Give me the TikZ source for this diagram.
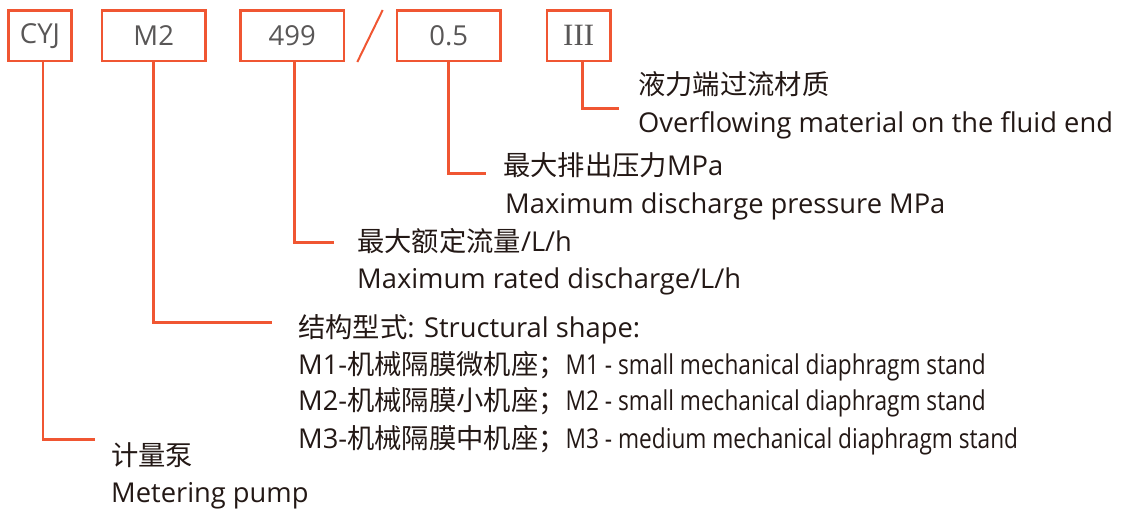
\documentclass[tikz,border=0pt]{standalone}
\usepackage{fontspec}
\setmainfont{Open Sans}
\newfontfamily\cjk{Noto Sans CJK SC}
\newfontfamily\narrowfont{Open Sans}[FakeStretch=0.83]
\newfontfamily\romanfont{Liberation Serif}
\usepackage{tikz}
\definecolor{leadred}{RGB}{240,86,50}
\definecolor{boxgray}{RGB}{89,87,87}
\definecolor{inkdark}{RGB}{35,24,21}
\newcommand{\zhtext}[1]{{\cjk #1}}
\tikzset{
  codebox/.style={draw=leadred, line width=2.6pt, text=boxgray, minimum height=50.5pt,
    inner sep=0pt, font=\fontsize{27.5}{27.5}\selectfont},
  lead/.style={draw=leadred, line width=2.6pt},
  desc/.style={anchor=base west, inner sep=0pt, text=inkdark, font=\fontsize{27.3}{27.3}\selectfont}
}

\begin{document}
\begin{tikzpicture}[x=1pt,y=1pt,yscale=-1]
\useasboundingbox (0,0) rectangle (1126,512);

% Code boxes
\node [codebox, minimum width=62.8pt] (cyj) at (40,35.8) {CYJ};
\node [codebox, minimum width=103.4pt] (mtype) at (153.7,35.8) {M2};
\node [codebox, minimum width=103.7pt] (flow) at (292.2,35.8) {499};
\node [codebox, minimum width=103.4pt] (press) at (448.7,35.8) {0.5};
\node [codebox, minimum width=63.4pt] (mat) at (578.7,35.8) {\fontsize{31}{31}\selectfont\romanfont III};
% Slash
\coordinate (slashlow) at (357.3,62);
\coordinate (slashhigh) at (382.7,10);
\draw [draw=leadred, line width=2pt] (slashlow) -- (slashhigh);

% Lead end points
\coordinate (matend) at (619.3,108.3);
\coordinate (pressend) at (486,173.3);
\coordinate (flowend) at (334,242.7);
\coordinate (mtypeend) at (271.7,322.3);
\coordinate (pumpend) at (95,439.3);

% Leads
\draw [lead] ([xshift=4pt]mat.south) |- (matend);
\draw [lead] (press.south) |- (pressend);
\draw [lead] ([xshift=2pt]flow.south) |- (flowend);
\draw [lead] (mtype.south) |- (mtypeend);
\draw [lead] ([xshift=3pt]cyj.south) |- (pumpend);

% Text Node
\node [desc] (zhmat) at (638,94.5) {\zhtext{液力端过流材质}};
\node [desc] (enmat) at (638,132) {Overflowing material on the fluid end};
% Text Node
\node [desc] (zhpress) at (503,175) {\zhtext{最大排出压力}MPa};
\node [desc] (enpress) at (505,213) {Maximum discharge pressure MPa};
% Text Node
\node [desc] (zhflow) at (357,251.5) {\zhtext{最大额定流量}/L/h};
\node [desc] (enflow) at (357,288) {Maximum rated discharge/L/h};
% Text Node
\node [desc] (zhshape) at (298,337) {\zhtext{结构型式}: Structural shape:};
\node [desc] (mone) at (298,374) {M1-\zhtext{机械隔膜微机座；}{\narrowfont M1 - small mechanical diaphragm stand}};
\node [desc] (mtwo) at (298,410) {M2-\zhtext{机械隔膜小机座；}{\narrowfont M2 - small mechanical diaphragm stand}};
\node [desc] (mthree) at (298,448) {M3-\zhtext{机械隔膜中机座；}{\narrowfont M3 - medium mechanical diaphragm stand}};
% Text Node
\node [desc] (zhpump) at (111,465.5) {\zhtext{计量泵}};
\node [desc] (enpump) at (111,502) {Metering pump};

\end{tikzpicture}
\end{document}
